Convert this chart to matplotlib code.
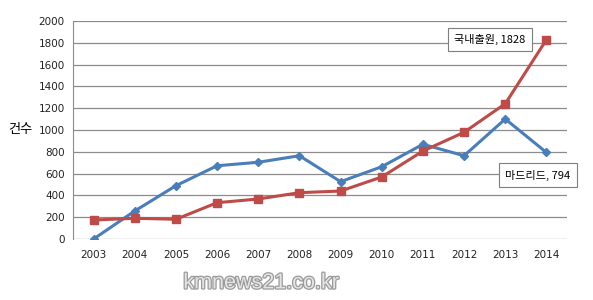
import matplotlib.pyplot as plt
import matplotlib.patheffects as pe

plt.rcParams['font.family'] = ['Noto Sans CJK KR', 'DejaVu Sans']

# ─── Data ──────────────────────────────────────────────────────────────────────
years = ["2003", "2004", "2005", "2006", "2007", "2008",
         "2009", "2010", "2011", "2012", "2013", "2014"]
madrid = [0, 257, 489, 672, 704, 764, 526, 663, 869, 764, 1101, 794]
domestic = [174, 190, 181, 333, 367, 425, 440, 569, 807, 979, 1241, 1828]
yticks = [0, 200, 400, 600, 800, 1000, 1200, 1400, 1600, 1800, 2000]

BLUE = "#4A7EBB"
RED = "#BE4B48"

fig = plt.figure(figsize=(5.93, 3.0), dpi=100)
ax = fig.add_axes([73 / 593, 1 - 239 / 300, (567 - 73) / 593, (239 - 21) / 300])

x = list(range(len(years)))
ax.plot(x, madrid, color=BLUE, lw=2.2, marker="D", ms=4.5, zorder=3)
ax.plot(x, domestic, color=RED, lw=2.2, marker="s", ms=6, zorder=4)

ax.set_xlim(-0.5, len(years) - 0.5)
ax.set_ylim(0, 2000)
ax.set_yticks(yticks)
ax.set_xticks(x)
ax.set_xticklabels(years)
ax.grid(axis="y", color="#8c8c8c", lw=0.9)
ax.set_axisbelow(True)
for s in ["top", "right", "bottom"]:
    ax.spines[s].set_visible(False)
ax.spines["left"].set_color("#8c8c8c")
ax.tick_params(length=0, labelsize=7.5, colors="#222222", pad=6)
ax.tick_params(axis="x", pad=8)
for lab in ax.get_xticklabels() + ax.get_yticklabels():
    lab.set_family("DejaVu Sans")

ax.set_ylabel("건수", rotation=0, fontsize=9.5, va="center", ha="center")
ax.yaxis.set_label_coords(-0.107, 0.5)

box = dict(boxstyle="square,pad=0.55", fc="white", ec="#7f7f7f", lw=0.8)
ax.text(9.63, domestic[-1], f"국내출원, {domestic[-1]}",
        ha="center", va="center", fontsize=8, bbox=box, zorder=5)
ax.text(10.79, madrid[-1] - 207, f"마드리드, {madrid[-1]}",
        ha="center", va="center", fontsize=8, bbox=box, zorder=5,
        clip_on=False)

fig.text(0.44, 0.057, "kmnews21.co.kr", ha="center", va="center", fontsize=15.5,
         family="Liberation Sans", color="#e4e4e4",
         path_effects=[pe.withStroke(linewidth=1.8, foreground="#9a9a9a")])

fig.savefig("out.png", dpi=100)
